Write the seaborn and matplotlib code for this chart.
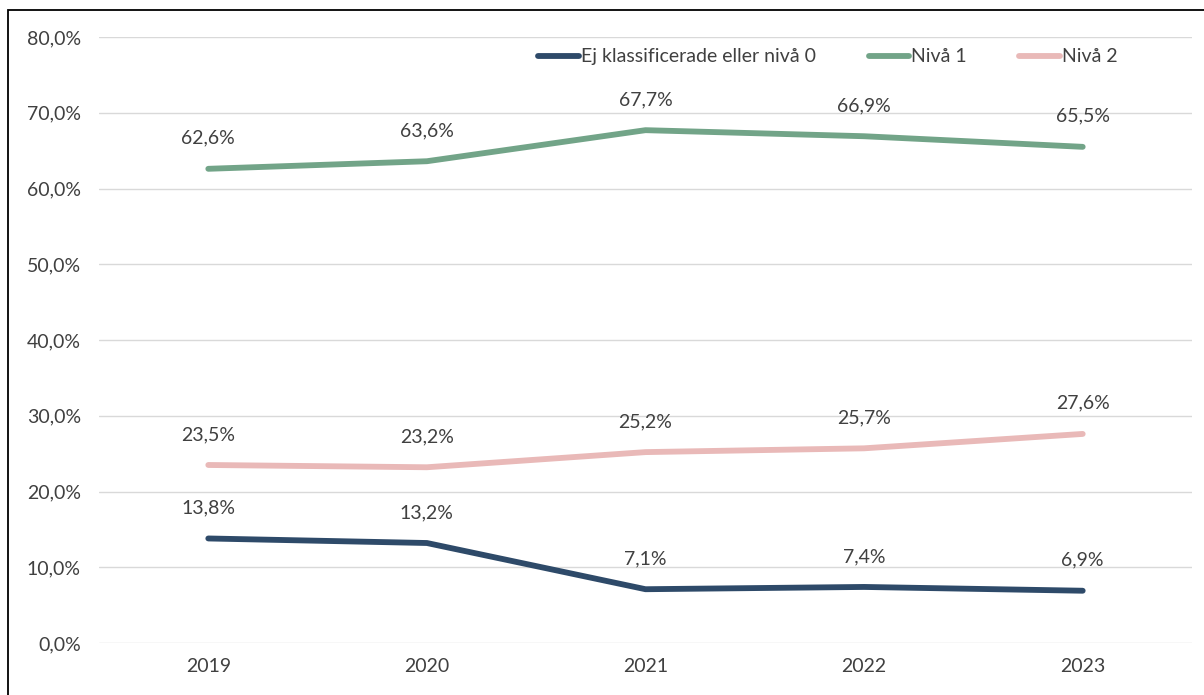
import matplotlib
matplotlib.use('Agg')
import matplotlib.pyplot as plt
from matplotlib.patches import Rectangle
import seaborn as sns
import pandas as pd

years = ['2019', '2020', '2021', '2022', '2023']
series_names = ['Ej klassificerade eller nivå 0', 'Nivå 1', 'Nivå 2']
niva0 = [13.8, 13.2, 7.1, 7.4, 6.9]
niva1 = [62.6, 63.6, 67.7, 66.9, 65.5]
niva2 = [23.5, 23.2, 25.2, 25.7, 27.6]
colors = ['#2E4A69', '#72A488', '#E9B9B8']

df = pd.DataFrame({
    'year': years * 3,
    'serie': [s for s in series_names for _ in years],
    'value': niva0 + niva1 + niva2,
})
df['x'] = df['year'].map({y: i for i, y in enumerate(years)})

sns.set_style('white')
plt.rcParams['font.family'] = ['Lato', 'DejaVu Sans']
text_color = '#404040'
fs = 14

fig = plt.figure(figsize=(12.04, 6.95), dpi=100)
ax = fig.add_axes([99 / 1204, 1 - 643 / 695, (1192 - 99) / 1204, (643 - 37) / 695])

sns.lineplot(data=df, x='x', y='value', hue='serie', hue_order=series_names,
             palette=colors, linewidth=4.2, ax=ax, sort=False,
             solid_capstyle='round')

# data labels above each point
for _, row in df.iterrows():
    ax.annotate(f"{row['value']:.1f}%".replace('.', ','), (row['x'], row['value']),
                xytext=(0, 22), textcoords='offset points', ha='center', va='center',
                fontsize=fs, color=text_color)

ax.set_xlim(-0.5, len(years) - 0.5)
ax.set_ylim(0, 80)
ax.set_xticks(range(len(years)))
ax.set_xticklabels(years)
ax.set_yticks(range(0, 81, 10))
ax.set_yticklabels([f"{v},0%" for v in range(0, 81, 10)])
ax.tick_params(axis='both', length=0, labelsize=fs, labelcolor=text_color)
ax.tick_params(axis='y', pad=13)
ax.tick_params(axis='x', pad=11)
ax.grid(axis='y', color='#D9D9D9', linewidth=1)
ax.set_axisbelow(True)
for s in ax.spines.values():
    s.set_visible(False)
ax.set_xlabel('')
ax.set_ylabel('')

leg = ax.legend(loc='center', bbox_to_anchor=(0.667, 0.967), ncol=3, frameon=False,
                fontsize=fs, handlelength=2.1, handletextpad=0.1, columnspacing=2.7)
for t in leg.get_texts():
    t.set_color(text_color)
for h in leg.get_lines():
    h.set_linewidth(4.2)

fig.add_artist(Rectangle((8 / 1204, -0.05), 1.2, (695 - 10) / 695 + 0.05,
                         transform=fig.transFigure, fill=False, ec='black', lw=1.3))

fig.savefig('out.png', dpi=100)
